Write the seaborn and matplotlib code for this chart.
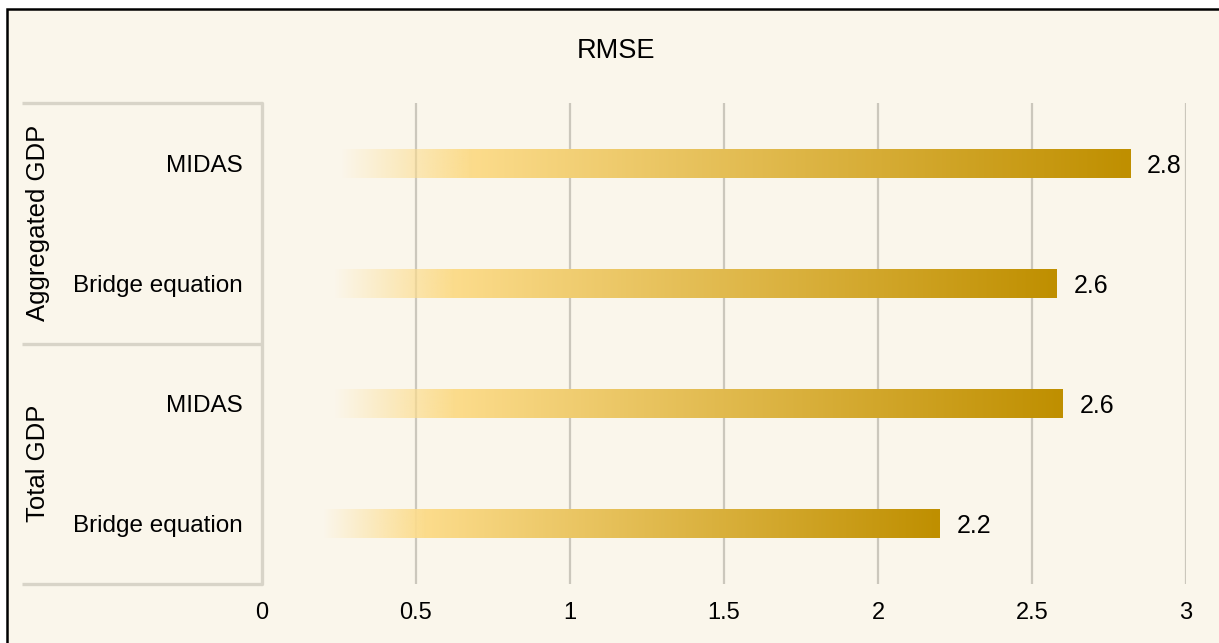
import numpy as np
import pandas as pd
import matplotlib
matplotlib.use("Agg")
import matplotlib.pyplot as plt
import matplotlib.colors as mcolors
from matplotlib.patches import Rectangle
import seaborn as sns

# data
groups = ["Aggregated GDP", "Aggregated GDP", "Total GDP", "Total GDP"]
models = ["MIDAS", "Bridge equation", "MIDAS", "Bridge equation"]
rmse = [2.82, 2.58, 2.60, 2.20]
xticks = [0, 0.5, 1, 1.5, 2, 2.5, 3]
xtick_labels = ["0", "0.5", "1", "1.5", "2", "2.5", "3"]
title = "RMSE"

BG = "#FAF6EB"
GRID = "#CBC7BC"
BOX = "#D8D4C8"
LIGHT = np.array(mcolors.to_rgb("#FCDC8C"))
DARK = np.array(mcolors.to_rgb("#BF8F00"))

sns.set_theme(style="white")
plt.rcParams["font.family"] = ["Liberation Sans", "DejaVu Sans"]

W, H = 1219, 643
fig = plt.figure(figsize=(W / 100, H / 100), dpi=100, facecolor="white")

# cream panel with black frame (cut off at right / bottom like the source)
fig.patches.append(Rectangle((7 / W, -0.05), 1.1, (H - 9) / H + 0.05,
                             transform=fig.transFigure, facecolor=BG,
                             edgecolor="black", lw=1.8, zorder=-1))

ax = fig.add_axes([262 / W, (H - 584) / H, (1186 - 262) / W, (584 - 103) / H])
ax.set_facecolor("none")

df = pd.DataFrame({"key": [g + "|" + m for g, m in zip(groups, models)],
                   "rmse": rmse})
sns.barplot(data=df, x="rmse", y="key", orient="h", width=0.24,
            color=DARK, ax=ax, zorder=2)

# gradient fill: transparent at the start, light yellow -> dark gold
n = 400
t = np.linspace(0, 1, n)
s = np.clip((t - 0.24) / 0.76, 0, 1)
rgba = np.zeros((1, n, 4))
rgba[0, :, :3] = LIGHT[None, :] * (1 - s[:, None]) + DARK[None, :] * s[:, None]
rgba[0, :, 3] = np.clip((t - 0.09) / 0.15, 0, 1)

for p in ax.patches:
    x0, y0 = p.get_x(), p.get_y()
    w, h = p.get_width(), p.get_height()
    p.set_facecolor("none")
    p.set_edgecolor("none")
    im = ax.imshow(rgba, extent=(x0, x0 + w, y0, y0 + h), aspect="auto",
                   zorder=2, interpolation="bilinear")
    im.set_clip_path(p)

ax.set_xlim(0, 3)
ax.set_ylim(3.5, -0.5)
ax.set_xticks(xticks)
ax.set_xticklabels(xtick_labels, family=["Liberation Sans Narrow", "Liberation Sans"])
ax.set_yticks(range(len(models)))
ax.set_yticklabels(models)
ax.set_xlabel("")
ax.set_ylabel("")
ax.grid(axis="x", color=GRID, lw=1.6)
ax.grid(axis="y", visible=False)
ax.set_axisbelow(True)
for sp in ax.spines.values():
    sp.set_visible(False)
ax.tick_params(axis="x", length=0, pad=13, labelsize=17, colors="black")
ax.tick_params(axis="y", length=0, pad=14, labelsize=17.5, colors="black")

# value labels
for i, v in enumerate(rmse):
    ax.annotate(f"{v:.1f}", xy=(v, i), xytext=(12, 0), textcoords="offset points",
                va="center_baseline", ha="left", fontsize=18, color="black")

# hierarchical category box on the left
trans = ax.get_yaxis_transform()
x_left = (22 - 262) / (1186 - 262)
for yb in [-0.5, 1.5, 3.5]:
    ax.plot([x_left, 0], [yb, yb], color=BOX, lw=2.4, transform=trans,
            clip_on=False, solid_capstyle="butt", zorder=3)
ax.plot([0, 0], [-0.5, 3.5], color=BOX, lw=2.4, transform=trans,
        clip_on=False, zorder=3)

x_grp = (38 - 262) / (1186 - 262)
for name, yc in [("Aggregated GDP", 0.5), ("Total GDP", 2.5)]:
    ax.text(x_grp, yc, name, rotation=90, ha="center", va="center",
            transform=trans, fontsize=18.5, color="black")

fig.text(616 / W, 1 - 51 / H, title, ha="center", va="center",
         fontsize=19.5, color="black")

fig.savefig("out.png", dpi=100, facecolor="white")
